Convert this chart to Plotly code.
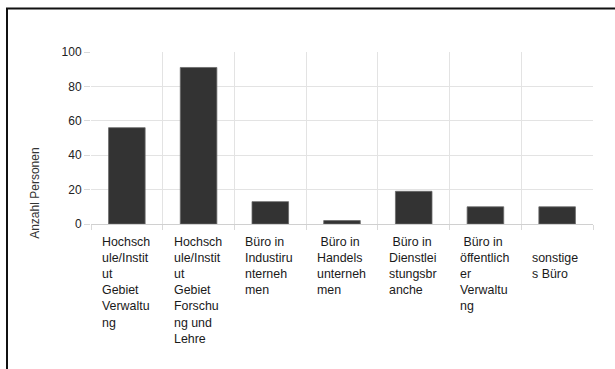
import plotly.graph_objects as go

categories = [
    "Hochschule/Institut Gebiet Verwaltung",
    "Hochschule/Institut Gebiet Forschung und Lehre",
    "Büro in Industirunternehmen",
    "Büro in Handelsunternehmen",
    "Büro in Dienstleistungsbranche",
    "Büro in öffentlicher Verwaltung",
    "sonstiges Büro",
]
wrapped_labels = [
    "Hochsch<br>ule/Instit<br>ut<br>Gebiet<br>Verwaltu<br>ng",
    "Hochsch<br>ule/Instit<br>ut<br>Gebiet<br>Forschu<br>ng und<br>Lehre",
    "Büro in<br>Industiru<br>nterneh<br>men",
    "\u00a0Büro in<br>Handels<br>unterneh<br>men",
    "\u00a0Büro in<br>Dienstlei<br>stungsbr<br>anche",
    "\u00a0Büro in<br>öffentlich<br>er<br>Verwaltu<br>ng",
    "\u00a0<br>sonstige<br>s Büro",
]
values = [56, 91, 13, 2, 19, 10, 10]
y_ticks = [0, 20, 40, 60, 80, 100]
y_title = "Anzahl Personen"

FONT = "Liberation Sans, Arial, sans-serif"

fig = go.Figure(
    go.Bar(
        x=categories,
        y=values,
        marker=dict(color="#333333", line=dict(color="#6a6a6a", width=0.8)),
        showlegend=False,
    )
)

annotations = []
for cat, lab in zip(categories, wrapped_labels):
    annotations.append(dict(
        x=cat, xref="x", y=0, yref="paper",
        text=lab, showarrow=False, xanchor="left", yanchor="top",
        align="left", xshift=-27, yshift=-9,
        font=dict(family=FONT, size=12.4, color="#1a1a1a"),
    ))
annotations.append(dict(
    x=-0.112, xref="paper", y=0.18, yref="paper", text=y_title,
    showarrow=False, textangle=-90, xanchor="center", yanchor="middle",
    font=dict(family=FONT, size=12, color="#333333"),
))

L, R, T, B = 91, 22, 52, 145
W, H = 615, 369
pw, ph = W - L - R, H - T - B
def px(x):
    return (x - L) / pw
def py(y):
    return (H - B - y) / ph

fig.add_shape(type="path",
              path=f"M {px(7)} {py(380)} L {px(7)} {py(8.5)} L {px(630)} {py(8.5)}",
              xref="paper", yref="paper", line=dict(color="#111111", width=2))

fig.update_layout(
    width=W, height=H,
    margin=dict(l=L, r=R, t=T, b=B),
    paper_bgcolor="white", plot_bgcolor="white",
    bargap=0.49,
    font=dict(family=FONT, color="#222222"),
    xaxis=dict(type="category", range=[-0.5, 6.5], tickson="boundaries",
               showticklabels=False, ticks="outside", ticklen=5, tickcolor="#d9d9d9",
               showgrid=True, gridcolor="#e3e3e3", gridwidth=1, showline=False,
               zeroline=False),
    yaxis=dict(range=[0, 100], tickvals=y_ticks, ticks="outside", ticklen=6,
               tickcolor="#d9d9d9", showgrid=True, gridcolor="#e3e3e3",
               zeroline=True, zerolinecolor="#d0d0d0", zerolinewidth=1,
               tickfont=dict(family=FONT, size=12, color="#222222"), showline=False),
    annotations=annotations,
)

fig.write_html("out.html")
